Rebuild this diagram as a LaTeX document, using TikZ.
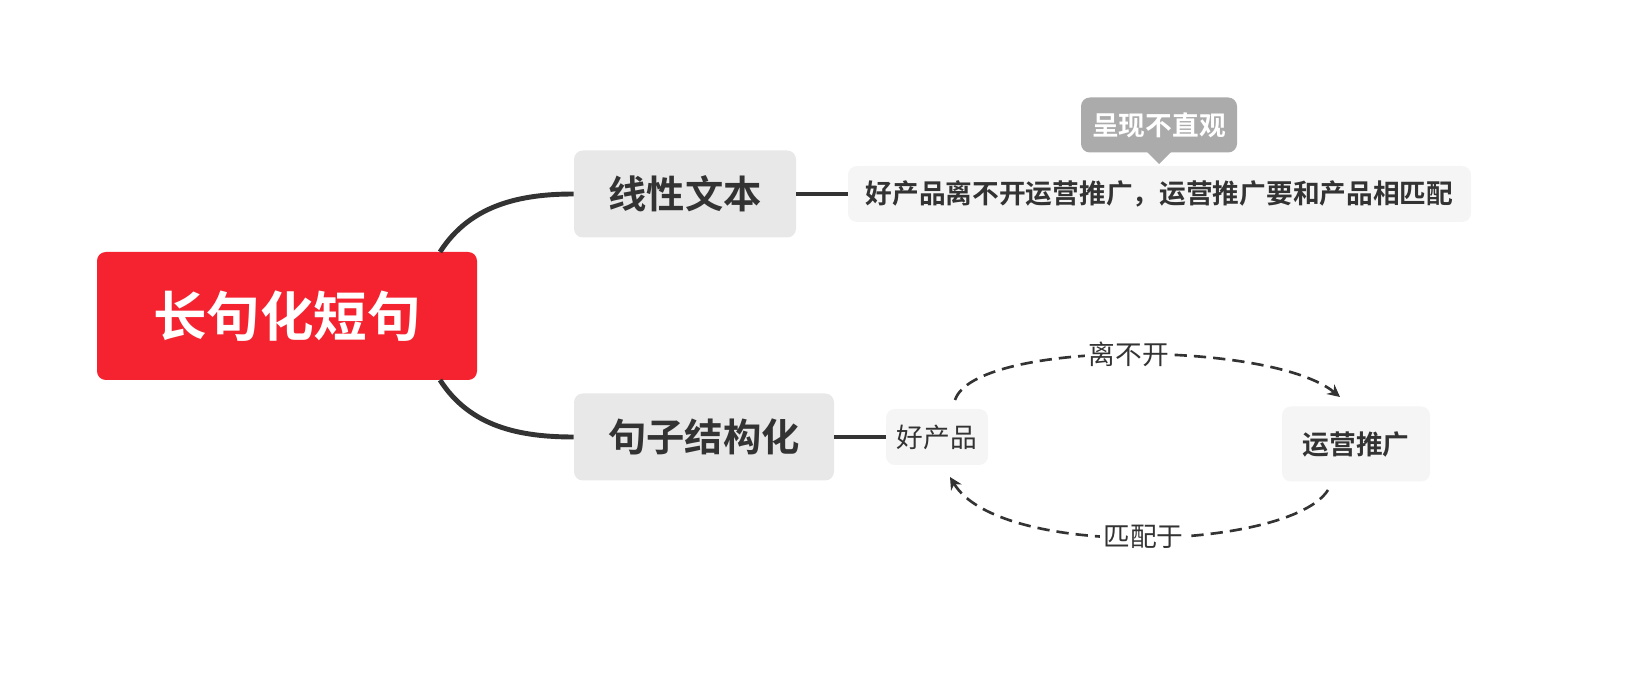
\documentclass[tikz,border=0pt]{standalone}
\usepackage{fontspec}
\setmainfont{Noto Sans CJK SC}
\newfontfamily\cjkb{Noto Sans CJK SC Bold}
\usetikzlibrary{arrows.meta}
\definecolor{rootred}{HTML}{F5222F}
\definecolor{dk}{HTML}{333333}
\definecolor{gbox}{HTML}{E8E8E8}
\definecolor{lbox}{HTML}{F5F5F5}
\definecolor{callg}{HTML}{ABABAB}
\begin{document}
\begin{tikzpicture}[x=0.02cm,y=-0.02cm,
  conn/.style={line width=2.8pt,draw=dk},
  rel/.style={line width=1.5pt,draw=dk,dash pattern=on 7pt off 4pt,-{Stealth[length=7pt,width=7pt]}},
  box/.style={rounded corners=5pt,inner sep=0pt,anchor=center},
  small/.style={font=\fontsize{15.2}{18}\selectfont,text=dk},
  smallb/.style={font=\cjkb\fontsize{15.2}{18}\selectfont,text=dk}]
\useasboundingbox (0,0) rectangle (1630,678);
\node[box,fill=rootred,minimum width=380*0.02cm,minimum height=128*0.02cm,font=\cjkb\fontsize{30.5}{36}\selectfont,text=white] (root) at (287,316) {长句化短句};
\node[box,fill=gbox,minimum width=222*0.02cm,minimum height=87*0.02cm,font=\cjkb\fontsize{21.8}{26}\selectfont,text=dk] (b1) at (685,194) {线性文本};
\node[box,fill=gbox,minimum width=260*0.02cm,minimum height=87*0.02cm,font=\cjkb\fontsize{21.8}{26}\selectfont,text=dk] (b2) at (704,437) {句子结构化};
\node[box,fill=lbox,minimum width=623*0.02cm,minimum height=56*0.02cm,smallb] (leaf) at (1159.5,194) {好产品离不开运营推广，运营推广要和产品相匹配};
\node[box,fill=callg,minimum width=156*0.02cm,minimum height=55*0.02cm,smallb,text=white] (call) at (1159,125) {呈现不直观};
\fill[callg] (1147,152) -- (1159,164) -- (1171,152) -- cycle;
\node[box,fill=lbox,minimum width=102*0.02cm,minimum height=56*0.02cm,small] (p) at (937,437) {好产品};
\node[box,fill=lbox,minimum width=148*0.02cm,minimum height=75*0.02cm,smallb] (y) at (1356,444) {运营推广};
\draw[conn] (440,252) .. controls (470,205) and (520,194) .. (b1.west);
\draw[conn] (440,380) .. controls (470,427) and (520,437) .. (b2.west);
\draw[conn] (b1.east) -- (leaf.west);
\draw[conn] (b2.east) -- (p.west);
\coordinate (t1) at (955,400);
\coordinate (t2) at (1340,397);
\coordinate (u1) at (1328,490);
\coordinate (u2) at (950,477);
\draw[rel] (t1) .. controls (975,340) and (1270,340) .. (t2)
  node[pos=0.5,fill=white,inner sep=2pt,small] {离不开};
\draw[rel] (u1) .. controls (1290,550) and (1000,560) .. (u2)
  node[pos=0.5,fill=white,inner sep=2pt,small] {匹配于};
\end{tikzpicture}
\end{document}
